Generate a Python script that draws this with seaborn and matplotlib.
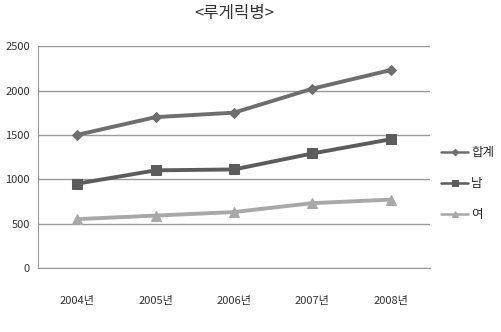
import pandas as pd
import seaborn as sns
import matplotlib.pyplot as plt

# 루게릭병 환자 수 (연도별)
years = ["2004년", "2005년", "2006년", "2007년", "2008년"]
total = [1500, 1700, 1750, 2020, 2230]
male = [950, 1100, 1110, 1290, 1450]
female = [550, 590, 630, 730, 770]

series_names = ["합계", "남", "여"]
colors = {"합계": "#6e6e6e", "남": "#5c5c5c", "여": "#a8a8a8"}
markers = {"합계": "D", "남": "s", "여": "^"}
msizes = {"합계": 5.5, "남": 7, "여": 7.5}

df = pd.DataFrame({"연도": years * 3,
                   "값": total + male + female,
                   "구분": [s for s in series_names for _ in years]})

sns.set_style("white")
plt.rcParams['font.family'] = ['Noto Sans CJK KR', 'DejaVu Sans']

fig = plt.figure(figsize=(5.02, 3.32), dpi=100)
ax = fig.add_axes([0.076, 0.193, 0.78, 0.668])

for name in series_names:
    sub = df[df["구분"] == name]
    sns.lineplot(data=sub, x="연도", y="값", ax=ax, color=colors[name],
                 marker=markers[name], markersize=msizes[name],
                 markeredgecolor=colors[name], linewidth=2.8, label=name)

ax.set_xlim(-0.5, 4.5)
ax.set_ylim(0, 2500)
ax.set_yticks(range(0, 2501, 500))
ax.yaxis.grid(True, color="#9a9a9a", linewidth=1)
ax.set_axisbelow(True)
for side in ["top", "right"]:
    ax.spines[side].set_visible(False)
ax.spines["left"].set_color("#9a9a9a")
ax.spines["bottom"].set_color("#9a9a9a")
ax.tick_params(axis="x", labelsize=8, pad=20, length=0, colors="#333333")
ax.tick_params(axis="y", labelsize=8, pad=6, length=0, colors="#333333")
ax.set_xlabel("")
ax.set_ylabel("")
ax.set_title("<루게릭병>", fontsize=12, pad=20, color="#333333")

leg = ax.legend(loc="center left", bbox_to_anchor=(1.0, 0.38), frameon=False,
                fontsize=9, handlelength=2.2, labelspacing=1.45,
                handletextpad=0.2, markerscale=0.6)
for line in leg.get_lines():
    line.set_linewidth(1.8)

fig.savefig("out.png", dpi=100)
